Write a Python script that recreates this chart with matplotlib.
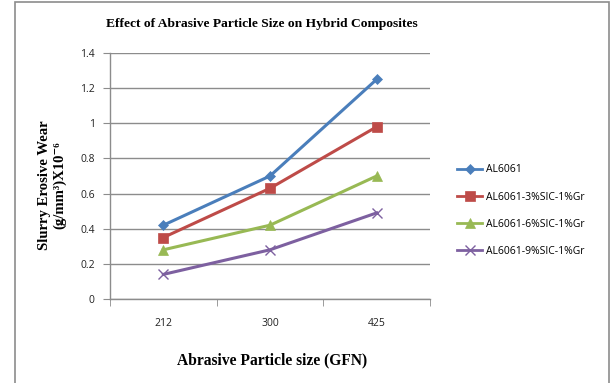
import matplotlib
matplotlib.use("Agg")
import matplotlib.pyplot as plt
from matplotlib.patches import Rectangle

categories = ["212", "300", "425"]
series_names = ["AL6061", "AL6061-3%SIC-1%Gr", "AL6061-6%SIC-1%Gr", "AL6061-9%SIC-1%Gr"]
al6061 = [0.42, 0.70, 1.25]
sic3 = [0.35, 0.63, 0.98]
sic6 = [0.28, 0.42, 0.70]
sic9 = [0.14, 0.28, 0.49]
y_ticks = [0, 0.2, 0.4, 0.6, 0.8, 1.0, 1.2, 1.4]
y_tick_labels = ["0", "0.2", "0.4", "0.6", "0.8", "1", "1.2", "1.4"]

colors = ["#4A7EBB", "#BE4B48", "#98B954", "#7D60A0"]
markers = ["D", "s", "^", "x"]
sizes = [5, 7, 7, 7]
serif = ["Liberation Serif", "DejaVu Serif"]

fig = plt.figure(figsize=(6.13, 3.83), dpi=100)
ax = fig.add_axes([110 / 613, 1 - 299 / 383, 320 / 613, 246 / 383])

# outer chart frame
fig.patches.append(Rectangle((15 / 613, -0.05), 594 / 613, 1.05 - 2 / 383,
                             transform=fig.transFigure, fill=False,
                             edgecolor="#8c8c8c", linewidth=1.2))

x = range(len(categories))
for vals, name, c, m, s in zip([al6061, sic3, sic6, sic9], series_names, colors, markers, sizes):
    ax.plot(x, vals, color=c, marker=m, markersize=s, linewidth=2.2, label=name,
            markeredgewidth=1.0 if m == "x" else 0.5, markeredgecolor=c, zorder=3)

ax.set_xlim(-0.5, 2.5)
ax.set_ylim(0, 1.4)
ax.set_yticks(y_ticks)
ax.set_yticklabels(y_tick_labels)
ax.set_xticks(list(x))
ax.set_xticklabels(categories)
ax.set_xticks([-0.5, 0.5, 1.5, 2.5], minor=True)
ax.tick_params(axis="x", which="major", length=0, pad=14)
ax.tick_params(axis="x", which="minor", length=5, color="#8c8c8c")
ax.tick_params(axis="y", length=5, color="#8c8c8c", pad=6)
for lab in ax.get_xticklabels() + ax.get_yticklabels():
    lab.set_fontfamily("Open Sans")
    lab.set_fontsize(7.5)
    lab.set_color("#222222")

ax.grid(axis="y", color="#8c8c8c", linewidth=1.0)
ax.set_axisbelow(True)
for side in ["top", "right"]:
    ax.spines[side].set_visible(False)
for side in ["left", "bottom"]:
    ax.spines[side].set_color("#8c8c8c")
    ax.spines[side].set_linewidth(1.0)

fig.text(262 / 613, 1 - 24 / 383, "Effect of Abrasive Particle Size on Hybrid Composites",
         ha="center", va="center", fontfamily=serif, fontweight="bold",
         fontsize=9.7)
fig.text(272 / 613, 1 - 360 / 383, "Abrasive Particle size (GFN)",
         ha="center", va="center", fontfamily=serif, fontweight="bold",
         fontsize=11.2)
fig.text(52 / 613, 1 - 185 / 383, "Slurry Erosive Wear\n(g/mm\u00b3)X10\u207b\u2076",
         ha="center", va="center", rotation=90, fontfamily=serif,
         fontweight="bold", fontsize=10.6, linespacing=1.15)

leg = fig.legend(loc="upper left", bbox_to_anchor=(448 / 613, 1 - 155 / 383),
                 frameon=False, prop={"family": "Open Sans", "size": 7.5},
                 handlelength=2.4, labelspacing=1.55, handletextpad=0.3)
for line in leg.get_lines():
    line.set_linewidth(2.0)

fig.savefig("out.png", dpi=100)
